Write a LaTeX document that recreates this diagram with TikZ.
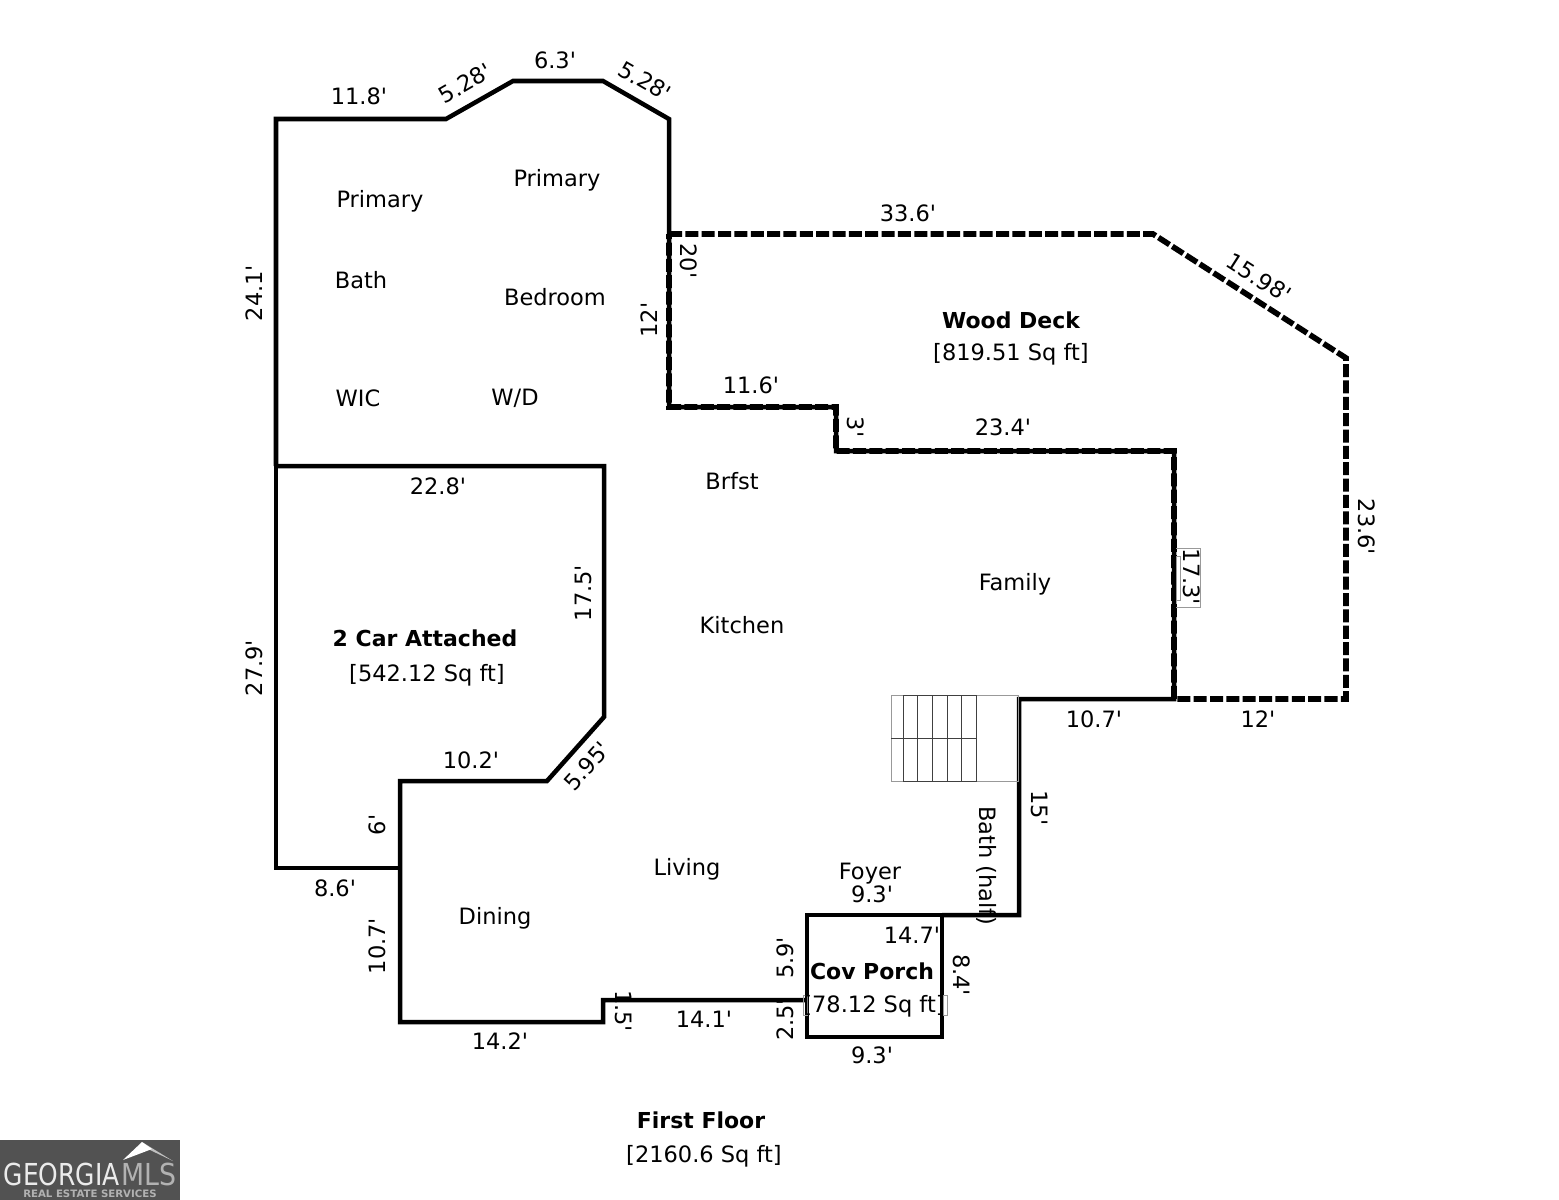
\documentclass[tikz,border=0pt]{standalone}
\usepackage{fontspec}
\defaultfontfeatures[\rmfamily]{}
\setmainfont{DejaVu Sans}
\usetikzlibrary{positioning, calc}

\begin{document}
\begin{tikzpicture}[
    x=0.01cm, y=-0.01cm,
    every node/.style={font={\fontsize{6.4pt}{8pt}\selectfont}, inner sep=0pt, text=black},
    wall/.style={line width=1.28pt, line join=miter, color=black},
    deck/.style={line width=1.6pt, dash pattern=on 3.7pt off 0.95pt, color=black},
    title/.style={font={\fontsize{6.25pt}{8pt}\selectfont\bfseries}},
    stairdark/.style={line width=0.25pt, color=black!75},
    stairlight/.style={line width=0.25pt, color=black!40}
  ]

  \useasboundingbox (0,0) rectangle (1559,1200);

  % walls
  \draw[wall] (276,466) -- (276,119) -- (446,119) -- (513,81) -- (603,81) -- (669,119) -- (669,407) -- (836,407) -- (836,451) -- (1174,451) -- (1174,699) -- (1019,699) -- (1019,915) -- (942,915);
  \draw[wall] (276,466) -- (604,466) -- (604,717) -- (547,781) -- (400,781) -- (400,1022) -- (603,1022) -- (603,1000) -- (807,1000);
  \draw[wall] (276,466) -- (276,868) -- (400,868);
  \draw[wall] (807,915) rectangle (942,1037);

  % deck
  \draw[deck] (669,234) -- (1153,234) -- (1346,358) -- (1346,699) -- (1174,699) -- (1174,451) -- (836,451) -- (836,407) -- (669,407) -- cycle;

  % stairs
  \draw[stairlight] (891,695) rectangle (1018,781);
  \draw[stairdark] (903,695) rectangle (976,781);
  \foreach \x in {917,932,947,961} {
    \draw[stairdark] (\x,695) -- (\x,781);
  }
  \draw[stairdark] (891,738) -- (976,738);

  % doors
  \draw[stairlight] (1176,556) rectangle (1180,600);
  \draw[stairlight] (1176,548) -- (1200,548) -- (1200,607) -- (1176,607);
  \draw[stairlight] (803,995) rectangle (807,1015);
  \draw[stairlight] (943,995) rectangle (947,1015);

  % rooms
  \node (primarybath) at (380,201) {Primary};
  \node (bath) at (361,280) {Bath};
  \node (primarybed) at (557,180) {Primary};
  \node (bedroom) at (555,297) {Bedroom};
  \node (wic) at (358,398) {WIC};
  \node (wd) at (515,398) {W/D};
  \node (brfst) at (732,481) {Brfst};
  \node (family) at (1015,584) {Family};
  \node (kitchen) at (742,625) {Kitchen};
  \node (living) at (687,869) {Living};
  \node (foyer) at (870,874) {Foyer};
  \node (dining) at (495,918) {Dining};
  \node[rotate=-90] (halfbath) at (987,866) {Bath (half)};

  \node[title] (decktitle) at (1011,320) {Wood Deck};
  \node (deckarea) at (1011,354) {[819.51 Sq ft]};
  \node[title] (garagetitle) at (425,638) {2 Car Attached};
  \node (garagearea) at (427,675) {[542.12 Sq ft]};
  \node[title] (porchtitle) at (872,971) {Cov Porch};
  \node (porcharea) at (874,1006) {[78.12 Sq ft]};
  \node[title] (floortitle) at (701,1120) {First Floor};
  \node (floorarea) at (704,1156) {[2160.6 Sq ft]};

  % dimensions
  \node (d1) at (359,96) {11.8'};
  \node[rotate=30] (d2) at (465,83) {5.28'};
  \node (d3) at (555,60) {6.3'};
  \node[rotate=-30] (d4) at (645,81) {5.28'};
  \node[rotate=90] (d5) at (254,293) {24.1'};
  \node (d6) at (908,213) {33.6'};
  \node[rotate=-32.7] (d8) at (1259,278) {15.98'};
  \node[rotate=-90] (d9) at (689,261) {20'};
  \node[rotate=90] (d10) at (649,320) {12'};
  \node (d11) at (751,385) {11.6'};
  \node[rotate=-90] (d12) at (856,427) {3'};
  \node (d13) at (1003,427) {23.4'};
  \node[rotate=-90] (d14) at (1367,527) {23.6'};
  \node[rotate=-90] (d15) at (1192,577) {17.3'};
  \node (d16) at (438,486) {22.8'};
  \node[rotate=90] (d17) at (583,593) {17.5'};
  \node[rotate=90] (d18) at (254,668) {27.9'};
  \node (d19) at (471,760) {10.2'};
  \node[rotate=48] (d20) at (587,766) {5.95'};
  \node[rotate=90] (d21) at (377,825) {6'};
  \node (d22) at (335,888) {8.6'};
  \node[rotate=90] (d23) at (377,946) {10.7'};
  \node (d24) at (500,1041) {14.2'};
  \node[rotate=-90] (d25) at (624,1011) {1.5'};
  \node (d26) at (704,1019) {14.1'};
  \node[rotate=90] (d27) at (785,958) {5.9'};
  \node[rotate=90] (d28) at (785,1020) {2.5'};
  \node (d29) at (872,894) {9.3'};
  \node (d30) at (912,935) {14.7'};
  \node[rotate=-90] (d31) at (962,975) {8.4'};
  \node (d32) at (872,1055) {9.3'};
  \node (d33) at (1094,719) {10.7'};
  \node (d34) at (1258,719) {12'};
  \node[rotate=-90] (d35) at (1040,808) {15'};

  % logo
  \fill[black!68] (0,1140) rectangle (180,1200);
  \fill[black!25] (142,1142) -- (173,1161) -- (150,1150) -- cycle;
  \fill[white] (123,1160) -- (142,1142) -- (152,1149) -- cycle;
  \node[font={\fontsize{8.6pt}{10pt}\selectfont}, text=white!92!black, anchor=base west] (logoa) at (3,1185) {\scalebox{0.826}[1]{GEORGIA}};
  \node[font={\fontsize{8.6pt}{10pt}\selectfont}, text=black!30, anchor=base west] (logob) at (121,1185) {\scalebox{0.885}[1]{MLS}};
  \node[font={\fontsize{2.9pt}{3pt}\selectfont\bfseries}, text=black!30] (logoc) at (90,1194) {REAL ESTATE SERVICES};

\end{tikzpicture}
\end{document}
